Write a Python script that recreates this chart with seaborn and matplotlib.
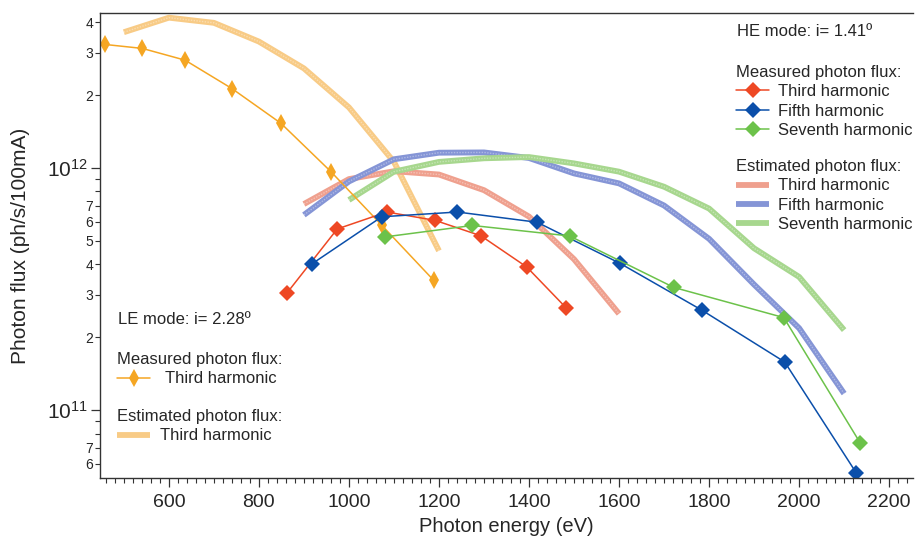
import numpy as np
import pandas as pd
import matplotlib
matplotlib.use("Agg")
import matplotlib.pyplot as plt
import matplotlib.ticker as mticker
from matplotlib.lines import Line2D
from matplotlib.legend import Legend
import seaborn as sns

# ---------------- data ----------------
# LE mode (i = 2.28 deg), third harmonic
le_meas_x = [458, 541, 636, 740, 849, 960, 1073, 1188]
le_meas_y = [3.24e12, 3.12e12, 2.79e12, 2.13e12, 1.53e12, 0.966e12, 5.8e11, 3.44e11]
le_est_x = [500, 600, 700, 800, 900, 1000, 1100, 1200]
le_est_y = [3.64e12, 4.18e12, 3.98e12, 3.33e12, 2.58e12, 1.78e12, 1.06e12, 4.55e11]

# HE mode (i = 1.41 deg), measured
he3_meas_x = [862, 974, 1084, 1191, 1293, 1395, 1482]
he3_meas_y = [3.04e11, 5.6e11, 6.58e11, 6.08e11, 5.25e11, 3.9e11, 2.65e11]
he5_meas_x = [918, 1073, 1241, 1418, 1602, 1785, 1968, 2127]
he5_meas_y = [4.02e11, 6.29e11, 6.58e11, 5.97e11, 4.04e11, 2.58e11, 1.58e11, 5.5e10]
he7_meas_x = [1079, 1274, 1490, 1722, 1966, 2136]
he7_meas_y = [5.19e11, 5.79e11, 5.24e11, 3.21e11, 2.41e11, 7.3e10]

# HE mode, estimated
he3_est_x = [900, 1000, 1100, 1200, 1300, 1400, 1500, 1600]
he3_est_y = [7.1e11, 9.0e11, 9.7e11, 9.4e11, 8.1e11, 6.3e11, 4.2e11, 2.5e11]
he5_est_x = [900, 1000, 1100, 1200, 1300, 1400, 1500, 1600, 1700, 1800, 1900, 2000, 2100]
he5_est_y = [6.4e11, 8.8e11, 1.087e12, 1.157e12, 1.16e12, 1.10e12, 0.95e12, 0.864e12,
             7.0e11, 5.1e11, 3.3e11, 2.18e11, 1.17e11]
he7_est_x = [1000, 1100, 1200, 1300, 1400, 1500, 1600, 1700, 1800, 1900, 2000, 2100]
he7_est_y = [7.38e11, 0.966e12, 1.06e12, 1.097e12, 1.11e12, 1.045e12, 0.966e12, 0.837e12,
             6.8e11, 4.66e11, 3.55e11, 2.14e11]

x_major_ticks = [600, 800, 1000, 1200, 1400, 1600, 1800, 2000, 2200]

# ---------------- style ----------------
sns.set_theme(style="ticks")
plt.rcParams['font.family'] = ['Liberation Sans', 'DejaVu Sans']
plt.rcParams['mathtext.fontset'] = 'custom'
plt.rcParams['mathtext.rm'] = 'Liberation Sans'

c_red, c_blue, c_green, c_orange = "#EE4824", "#0B4FAA", "#6CC24A", "#F5A623"
e_red, e_blue, e_green, e_orange = "#EFA08E", "#8595D6", "#A7D78E", "#F8CB86"

fig = plt.figure(figsize=(9.15, 5.40), dpi=100)
ax = fig.add_axes([100 / 915, 1 - 478 / 540, 813 / 915, 465 / 540])

def est(x, y, col):
    df = pd.DataFrame({"x": x, "y": y})
    sns.lineplot(data=df, x="x", y="y", ax=ax, color=col, lw=4.2, solid_capstyle="butt",
                 legend=False)
    sns.lineplot(data=df, x="x", y="y", ax=ax, color="white", lw=1.0, alpha=0.35,
                 linestyle=(0, (1, 1)), legend=False)

def meas(x, y, col, marker, ms):
    df = pd.DataFrame({"x": x, "y": y})
    sns.lineplot(data=df, x="x", y="y", ax=ax, color=col, lw=1.1, marker=marker,
                 markersize=ms, markeredgewidth=0, legend=False)

est(le_est_x, le_est_y, e_orange)
est(he3_est_x, he3_est_y, e_red)
est(he5_est_x, he5_est_y, e_blue)
est(he7_est_x, he7_est_y, e_green)
meas(le_meas_x, le_meas_y, c_orange, "d", 9)
meas(he3_meas_x, he3_meas_y, c_red, "D", 8.5)
meas(he5_meas_x, he5_meas_y, c_blue, "D", 8.5)
meas(he7_meas_x, he7_meas_y, c_green, "D", 8.5)

# ---------------- axes ----------------
ax.set_yscale("log")
ax.set_xlim(447, 2253)
ax.set_ylim(5.24e10, 4.37e12)

ax.xaxis.set_major_locator(mticker.FixedLocator(x_major_ticks))
ax.xaxis.set_minor_locator(mticker.MultipleLocator(20))
ax.yaxis.set_major_locator(mticker.FixedLocator([1e11, 1e12]))
ax.yaxis.set_major_formatter(mticker.FuncFormatter(
    lambda v, p: r"$\mathregular{10^{%d}}$" % round(np.log10(v))))
ax.yaxis.set_minor_locator(mticker.LogLocator(base=10, subs=np.arange(2, 10), numticks=20))

def minor_fmt(v, p):
    d = int(round(v / 10 ** np.floor(np.log10(v) + 1e-9)))
    return str(d) if d in (2, 3, 4, 5, 6, 7) else ""

ax.yaxis.set_minor_formatter(mticker.FuncFormatter(minor_fmt))

ax.tick_params(axis="x", which="major", length=6.5, width=0.9, labelsize=14, pad=5, color="#333333")
ax.tick_params(axis="x", which="minor", length=3.6, width=0.8, color="#333333")
ax.tick_params(axis="y", which="major", length=6.5, width=0.9, labelsize=15, pad=2, color="#333333")
ax.tick_params(axis="y", which="minor", length=3.6, width=0.8, labelsize=10, pad=1.5, color="#333333")

for s in ("left", "bottom", "top"):
    ax.spines[s].set_color("#333333")
    ax.spines[s].set_linewidth(1.0)
ax.spines["right"].set_visible(False)

ax.set_xlabel("Photon energy (eV)", fontsize=14.5)
ax.set_ylabel("Photon flux (ph/s/100mA)", fontsize=15)
ax.xaxis.set_label_coords(0.5, -0.083)
ax.yaxis.set_label_coords(-0.086, 0.5)

# ---------------- legends ----------------
def mhandle(col, marker, ms):
    return Line2D([], [], color=col, lw=1.1, marker=marker, markersize=ms, markeredgewidth=0)

def ehandle(col):
    return Line2D([], [], color=col, lw=4.2, solid_capstyle="butt")

def make_legend(handles, labels, title, x_px, y_px, tpad):
    lg = Legend(ax, handles, labels, title=title, loc="upper left",
                bbox_to_anchor=(x_px / 915, 1 - y_px / 540), bbox_transform=fig.transFigure,
                frameon=False, borderpad=0, fontsize=12, title_fontsize=12,
                handlelength=2.0, handletextpad=tpad, labelspacing=0.26,
                borderaxespad=0, alignment="left")
    ax.add_artist(lg)
    return lg

fig.text(737 / 915, 1 - 32 / 540, "HE mode: i= 1.41º", fontsize=12, va="center", ha="left")
make_legend([mhandle(c_red, "D", 8.5), mhandle(c_blue, "D", 8.5), mhandle(c_green, "D", 8.5)],
            ["Third harmonic", "Fifth harmonic", "Seventh harmonic"],
            "Measured photon flux:", 736, 65, 0.55)
make_legend([ehandle(e_red), ehandle(e_blue), ehandle(e_green)],
            ["Third harmonic", "Fifth harmonic", "Seventh harmonic"],
            "Estimated photon flux:", 736, 159, 0.55)

fig.text(118 / 915, 1 - 320 / 540, "LE mode: i= 2.28º", fontsize=12, va="center", ha="left")
make_legend([mhandle(c_orange, "d", 9)], ["Third harmonic"],
            "Measured photon flux:", 117, 352, 0.9)
make_legend([ehandle(e_orange)], ["Third harmonic"],
            "Estimated photon flux:", 117, 409, 0.6)

fig.savefig("out.png", dpi=100)
